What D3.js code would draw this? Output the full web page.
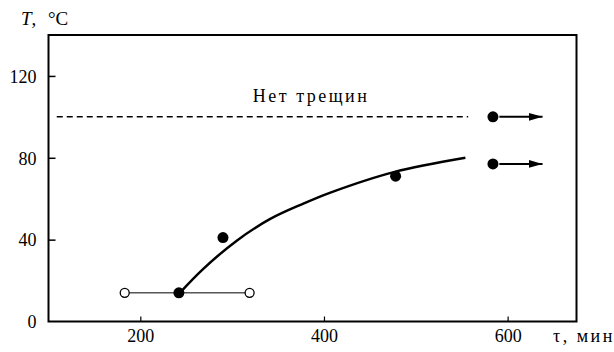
<!DOCTYPE html>
<html>
<head>
<meta charset="utf-8">
<script src="https://cdn.jsdelivr.net/npm/d3@7"></script>
<style>
  body { margin: 0; background: #fff; }
</style>
</head>
<body>
<div id="chart"></div>
<script>
// values
var xTicks = [200, 400, 600];
var yTicks = [0, 40, 80, 120];

var curveTau = [243, 268, 305, 341, 377, 407, 476, 554];
var curveT   = [14, 25.5, 39.5, 50, 57.5, 63, 73, 80];

var filledTau = [242, 290, 478, 584, 584];
var filledT   = [14, 41, 71, 100, 77];

var openTau = [183, 319];
var openT   = [14, 14];

var arrowT = [100, 77];
var arrowFrom = 591;
var arrowTo = 638;

var noCrackT = 100;
var noCrackTau = [109, 557];
var noCrackLabel = "Нет трещин";
var noCrackLabelTau = 386;

var serif = "Liberation Serif";

var w = 614, h = 352;
var margin = {top: 35, right: 37.5, bottom: 30.5, left: 48.5};
var width = w - margin.left - margin.right,
    height = h - margin.top - margin.bottom;

var svg = d3.select("#chart").append("svg")
    .attr("width", w)
    .attr("height", h);

var g = svg.append("g").attr("transform", "translate(" + margin.left + "," + margin.top + ")");

var x = d3.scaleLinear().domain([100, 675]).range([0, width]);
var y = d3.scaleLinear().domain([0, 140]).range([height, 0]);

// frame
g.append("rect")
    .attr("width", width)
    .attr("height", height)
    .style("fill", "none")
    .style("stroke", "#000")
    .style("stroke-width", 2);

// axes, ticks point inward
var yAxis = g.append("g")
    .call(d3.axisLeft(y).tickValues(yTicks).tickSize(-7).tickPadding(12).tickFormat(d3.format("d")));
yAxis.select(".domain").remove();
yAxis.selectAll("line").style("stroke-width", 1.5).filter(function(d) { return d === 0; }).remove();
yAxis.selectAll("text")
    .attr("dy", "0.35em")
    .style("font-family", serif)
    .style("font-size", "18px");

var xAxis = g.append("g").attr("transform", "translate(0," + height + ")")
    .call(d3.axisBottom(x).tickValues(xTicks).tickSize(-5).tickPadding(8));
xAxis.select(".domain").remove();
xAxis.selectAll("line").style("stroke-width", 1.2);
xAxis.selectAll("text")
    .style("font-family", serif)
    .style("font-size", "18px");

// axis titles
var tLabel = svg.append("text").attr("x", 21).attr("y", 25)
    .style("font-family", serif).style("font-size", "19px");
tLabel.append("tspan").style("font-style", "italic").text("T");
tLabel.append("tspan").text(",");
tLabel.append("tspan").attr("x", 48).text("°C");

svg.append("text").attr("x", 553).attr("y", 342)
    .style("font-family", serif).style("font-size", "18px")
    .style("letter-spacing", "2.5px")
    .text("τ, мин");

// no-crack dashed line
g.append("line")
    .attr("x1", x(noCrackTau[0])).attr("x2", x(noCrackTau[1]))
    .attr("y1", y(noCrackT)).attr("y2", y(noCrackT))
    .style("stroke", "#000")
    .style("stroke-width", 1.5)
    .style("stroke-dasharray", "6,4");

g.append("text")
    .attr("x", x(noCrackLabelTau))
    .attr("y", y(noCrackT) - 15)
    .attr("text-anchor", "middle")
    .style("font-family", serif)
    .style("font-size", "18px")
    .style("letter-spacing", "2.5px")
    .text(noCrackLabel);

// horizontal range between open circles
g.append("line")
    .attr("x1", x(openTau[0])).attr("x2", x(openTau[1]))
    .attr("y1", y(openT[0])).attr("y2", y(openT[1]))
    .style("stroke", "#000")
    .style("stroke-width", 1);

// fitted curve
var curveData = curveTau.map(function(d, i) { return [d, curveT[i]]; });
var line = d3.line()
    .x(function(d) { return x(d[0]); })
    .y(function(d) { return y(d[1]); })
    .curve(d3.curveCatmullRom.alpha(0.5));

g.append("path")
    .datum(curveData)
    .attr("d", line)
    .style("fill", "none")
    .style("stroke", "#000")
    .style("stroke-width", 2.5);

// arrows
svg.append("defs").append("marker")
    .attr("id", "head")
    .attr("viewBox", "0 0 14 8")
    .attr("refX", 14).attr("refY", 4)
    .attr("markerWidth", 14).attr("markerHeight", 8)
    .attr("markerUnits", "userSpaceOnUse")
    .attr("orient", "auto")
  .append("path")
    .attr("d", "M0,0 L14,4 L0,8 Z")
    .style("fill", "#000");

g.selectAll(".arrow")
    .data(arrowT)
    .enter().append("line")
    .attr("class", "arrow")
    .attr("x1", x(arrowFrom)).attr("x2", x(arrowTo))
    .attr("y1", function(d) { return y(d); })
    .attr("y2", function(d) { return y(d); })
    .style("stroke", "#000")
    .style("stroke-width", 2)
    .attr("marker-end", "url(#head)");

// points
g.selectAll(".open")
    .data(openTau)
    .enter().append("circle")
    .attr("class", "open")
    .attr("cx", function(d) { return x(d); })
    .attr("cy", function(d, i) { return y(openT[i]); })
    .attr("r", 4.5)
    .style("fill", "#fff")
    .style("stroke", "#000")
    .style("stroke-width", 1.3);

g.selectAll(".filled")
    .data(filledTau)
    .enter().append("circle")
    .attr("class", "filled")
    .attr("cx", function(d) { return x(d); })
    .attr("cy", function(d, i) { return y(filledT[i]); })
    .attr("r", 5.5)
    .style("fill", "#000");
</script>
</body>
</html>
